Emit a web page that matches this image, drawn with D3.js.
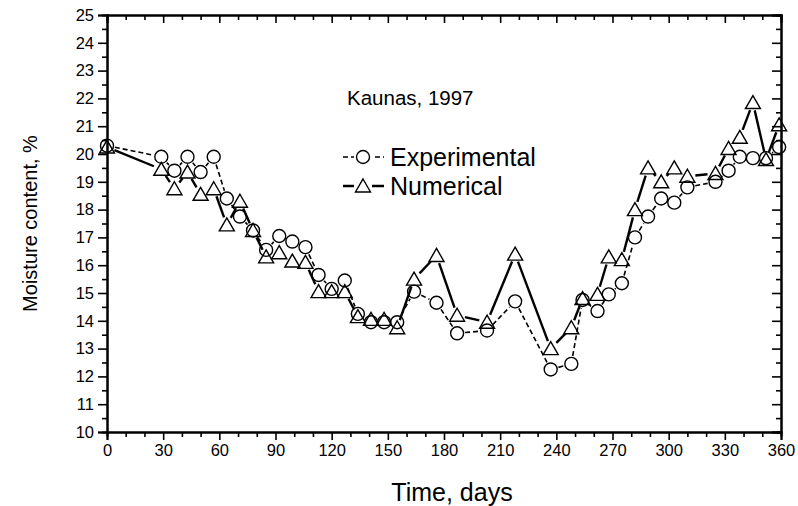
<!DOCTYPE html>
<html>
<head>
<meta charset="utf-8">
<script src="https://cdn.jsdelivr.net/npm/d3@7.9.0/dist/d3.min.js"></script>
<style>
body { margin: 0; background: #fff; }
svg { font-family: "Liberation Sans", Arial, sans-serif; }
</style>
</head>
<body>
<svg id="chart" width="798" height="506"></svg>
<script>
const days = [0,29,36,43,50,57,64,71,78,85,92,99,106,113,120,127,134,141,148,155,164,176,187,203,218,237,248,254,262,268,275,282,289,296,303,310,325,332,338,345,352,359];
const experimental = [20.3,19.9,19.4,19.9,19.35,19.9,18.4,17.75,17.25,16.55,17.05,16.85,16.65,15.65,15.15,15.45,14.25,13.95,13.95,13.95,15.05,14.65,13.55,13.65,14.7,12.25,12.45,14.75,14.35,14.95,15.35,17.0,17.75,18.4,18.25,18.8,19.0,19.4,19.9,19.85,19.85,20.25];
const numerical = [20.25,19.45,18.75,19.35,18.55,18.75,17.45,18.3,17.25,16.3,16.45,16.15,16.1,15.05,15.05,15.05,14.15,14.05,14.05,13.75,15.5,16.35,14.2,13.95,16.4,13.0,13.75,14.8,14.95,16.3,16.2,18.0,19.5,19.0,19.5,19.2,19.3,20.2,20.6,21.85,19.8,21.05];
const xTicks = [0,30,60,90,120,150,180,210,240,270,300,330,360];
const yTicks = [10,11,12,13,14,15,16,17,18,19,20,21,22,23,24,25];

const mLeft = 107, mRight = 781, mTop = 15, mBottom = 432;
const svg = d3.select('#chart');
const x = d3.scaleLinear().domain([0, 360]).range([mLeft, mRight]);
const y = d3.scaleLinear().domain([10, 25]).range([mBottom, mTop]);

const xMinor = d3.range(0, 361, 10).filter(d => d % 30);
const yMinor = d3.range(10.5, 25, 1);

// bottom axis, outward ticks
svg.append('g').attr('transform', `translate(0,${mBottom})`)
  .call(d3.axisBottom(x).tickValues(xTicks).tickSize(8).tickPadding(4).tickFormat(d3.format('d')));
svg.append('g').attr('transform', `translate(0,${mBottom})`)
  .call(d3.axisBottom(x).tickValues(xMinor).tickSize(5).tickFormat(''));
// top axis, inward
svg.append('g').attr('transform', `translate(0,${mTop})`)
  .call(d3.axisBottom(x).tickValues(xTicks).tickSize(8).tickFormat(''));
svg.append('g').attr('transform', `translate(0,${mTop})`)
  .call(d3.axisBottom(x).tickValues(xMinor).tickSize(5).tickFormat(''));
// left axis, outward
svg.append('g').attr('transform', `translate(${mLeft},0)`)
  .call(d3.axisLeft(y).tickValues(yTicks).tickSize(9).tickPadding(4).tickFormat(d3.format('d')));
svg.append('g').attr('transform', `translate(${mLeft},0)`)
  .call(d3.axisLeft(y).tickValues(yMinor).tickSize(5).tickFormat(''));
// right axis, inward
svg.append('g').attr('transform', `translate(${mRight},0)`)
  .call(d3.axisLeft(y).tickValues(yTicks).tickSize(9).tickFormat(''));
svg.append('g').attr('transform', `translate(${mRight},0)`)
  .call(d3.axisLeft(y).tickValues(yMinor).tickSize(5).tickFormat(''));

svg.selectAll('.domain').attr('stroke', '#000').attr('stroke-width', 2);
svg.selectAll('.tick line').attr('stroke', '#000').attr('stroke-width', 1.6);
svg.selectAll('.tick text').attr('font-size', 16.5).attr('fill', '#000')
  .attr('font-family', '"Liberation Sans", Arial, sans-serif');

// axis titles
svg.append('text').attr('x', 452).attr('y', 501)
  .attr('text-anchor', 'middle').attr('font-size', 25).text('Time, days');
svg.append('text').attr('transform', `translate(37,${(mTop + mBottom) / 2}) rotate(-90)`)
  .attr('text-anchor', 'middle').attr('font-size', 20).text('Moisture content, %');

// line segments with gaps at markers
function segments(vals, gap) {
  const pts = days.map((d, i) => [x(d), y(vals[i])]);
  const segs = [];
  for (let i = 0; i < pts.length - 1; i++) {
    const [x0, y0] = pts[i], [x1, y1] = pts[i + 1];
    const L = Math.hypot(x1 - x0, y1 - y0);
    if (L <= 2 * gap) continue;
    const ux = (x1 - x0) / L, uy = (y1 - y0) / L;
    segs.push([x0 + ux * gap, y0 + uy * gap, x1 - ux * gap, y1 - uy * gap]);
  }
  return segs;
}

svg.append('g').selectAll('line').data(segments(experimental, 8)).join('line')
  .attr('x1', d => d[0]).attr('y1', d => d[1]).attr('x2', d => d[2]).attr('y2', d => d[3])
  .attr('stroke', '#000').attr('stroke-width', 1.6).attr('stroke-dasharray', '5,3');
svg.append('g').selectAll('line').data(segments(numerical, 8)).join('line')
  .attr('x1', d => d[0]).attr('y1', d => d[1]).attr('x2', d => d[2]).attr('y2', d => d[3])
  .attr('stroke', '#000').attr('stroke-width', 2.4);

const tri = 'M0,-7L7.5,6L-7.5,6Z';
svg.append('g').selectAll('circle').data(days).join('circle')
  .attr('cx', d => x(d)).attr('cy', (d, i) => y(experimental[i])).attr('r', 6.5)
  .attr('fill', 'none').attr('stroke', '#000').attr('stroke-width', 1.4);
svg.append('g').selectAll('path').data(days).join('path')
  .attr('d', tri).attr('transform', (d, i) => `translate(${x(d)},${y(numerical[i])})`)
  .attr('fill', 'none').attr('stroke', '#000').attr('stroke-width', 1.4);

// legend
const lg = svg.append('g');
lg.append('text').attr('x', 347).attr('y', 105).attr('font-size', 20.5).text('Kaunas, 1997');
lg.append('line').attr('x1', 343).attr('x2', 384).attr('y1', 157).attr('y2', 157)
  .attr('stroke', '#000').attr('stroke-width', 1.6).attr('stroke-dasharray', '5,3');
lg.append('rect').attr('x', 354).attr('y', 148).attr('width', 18).attr('height', 18).attr('fill', '#fff');
lg.append('circle').attr('cx', 363).attr('cy', 157).attr('r', 6.5)
  .attr('fill', 'none').attr('stroke', '#000').attr('stroke-width', 1.4);
lg.append('text').attr('x', 390).attr('y', 166).attr('font-size', 25).text('Experimental');
lg.append('line').attr('x1', 343).attr('x2', 384).attr('y1', 186).attr('y2', 186)
  .attr('stroke', '#000').attr('stroke-width', 2.4);
lg.append('rect').attr('x', 354).attr('y', 177).attr('width', 18).attr('height', 18).attr('fill', '#fff');
lg.append('path').attr('d', tri).attr('transform', 'translate(363,186)')
  .attr('fill', 'none').attr('stroke', '#000').attr('stroke-width', 1.4);
lg.append('text').attr('x', 390).attr('y', 195).attr('font-size', 25).text('Numerical');
</script>
</body>
</html>
